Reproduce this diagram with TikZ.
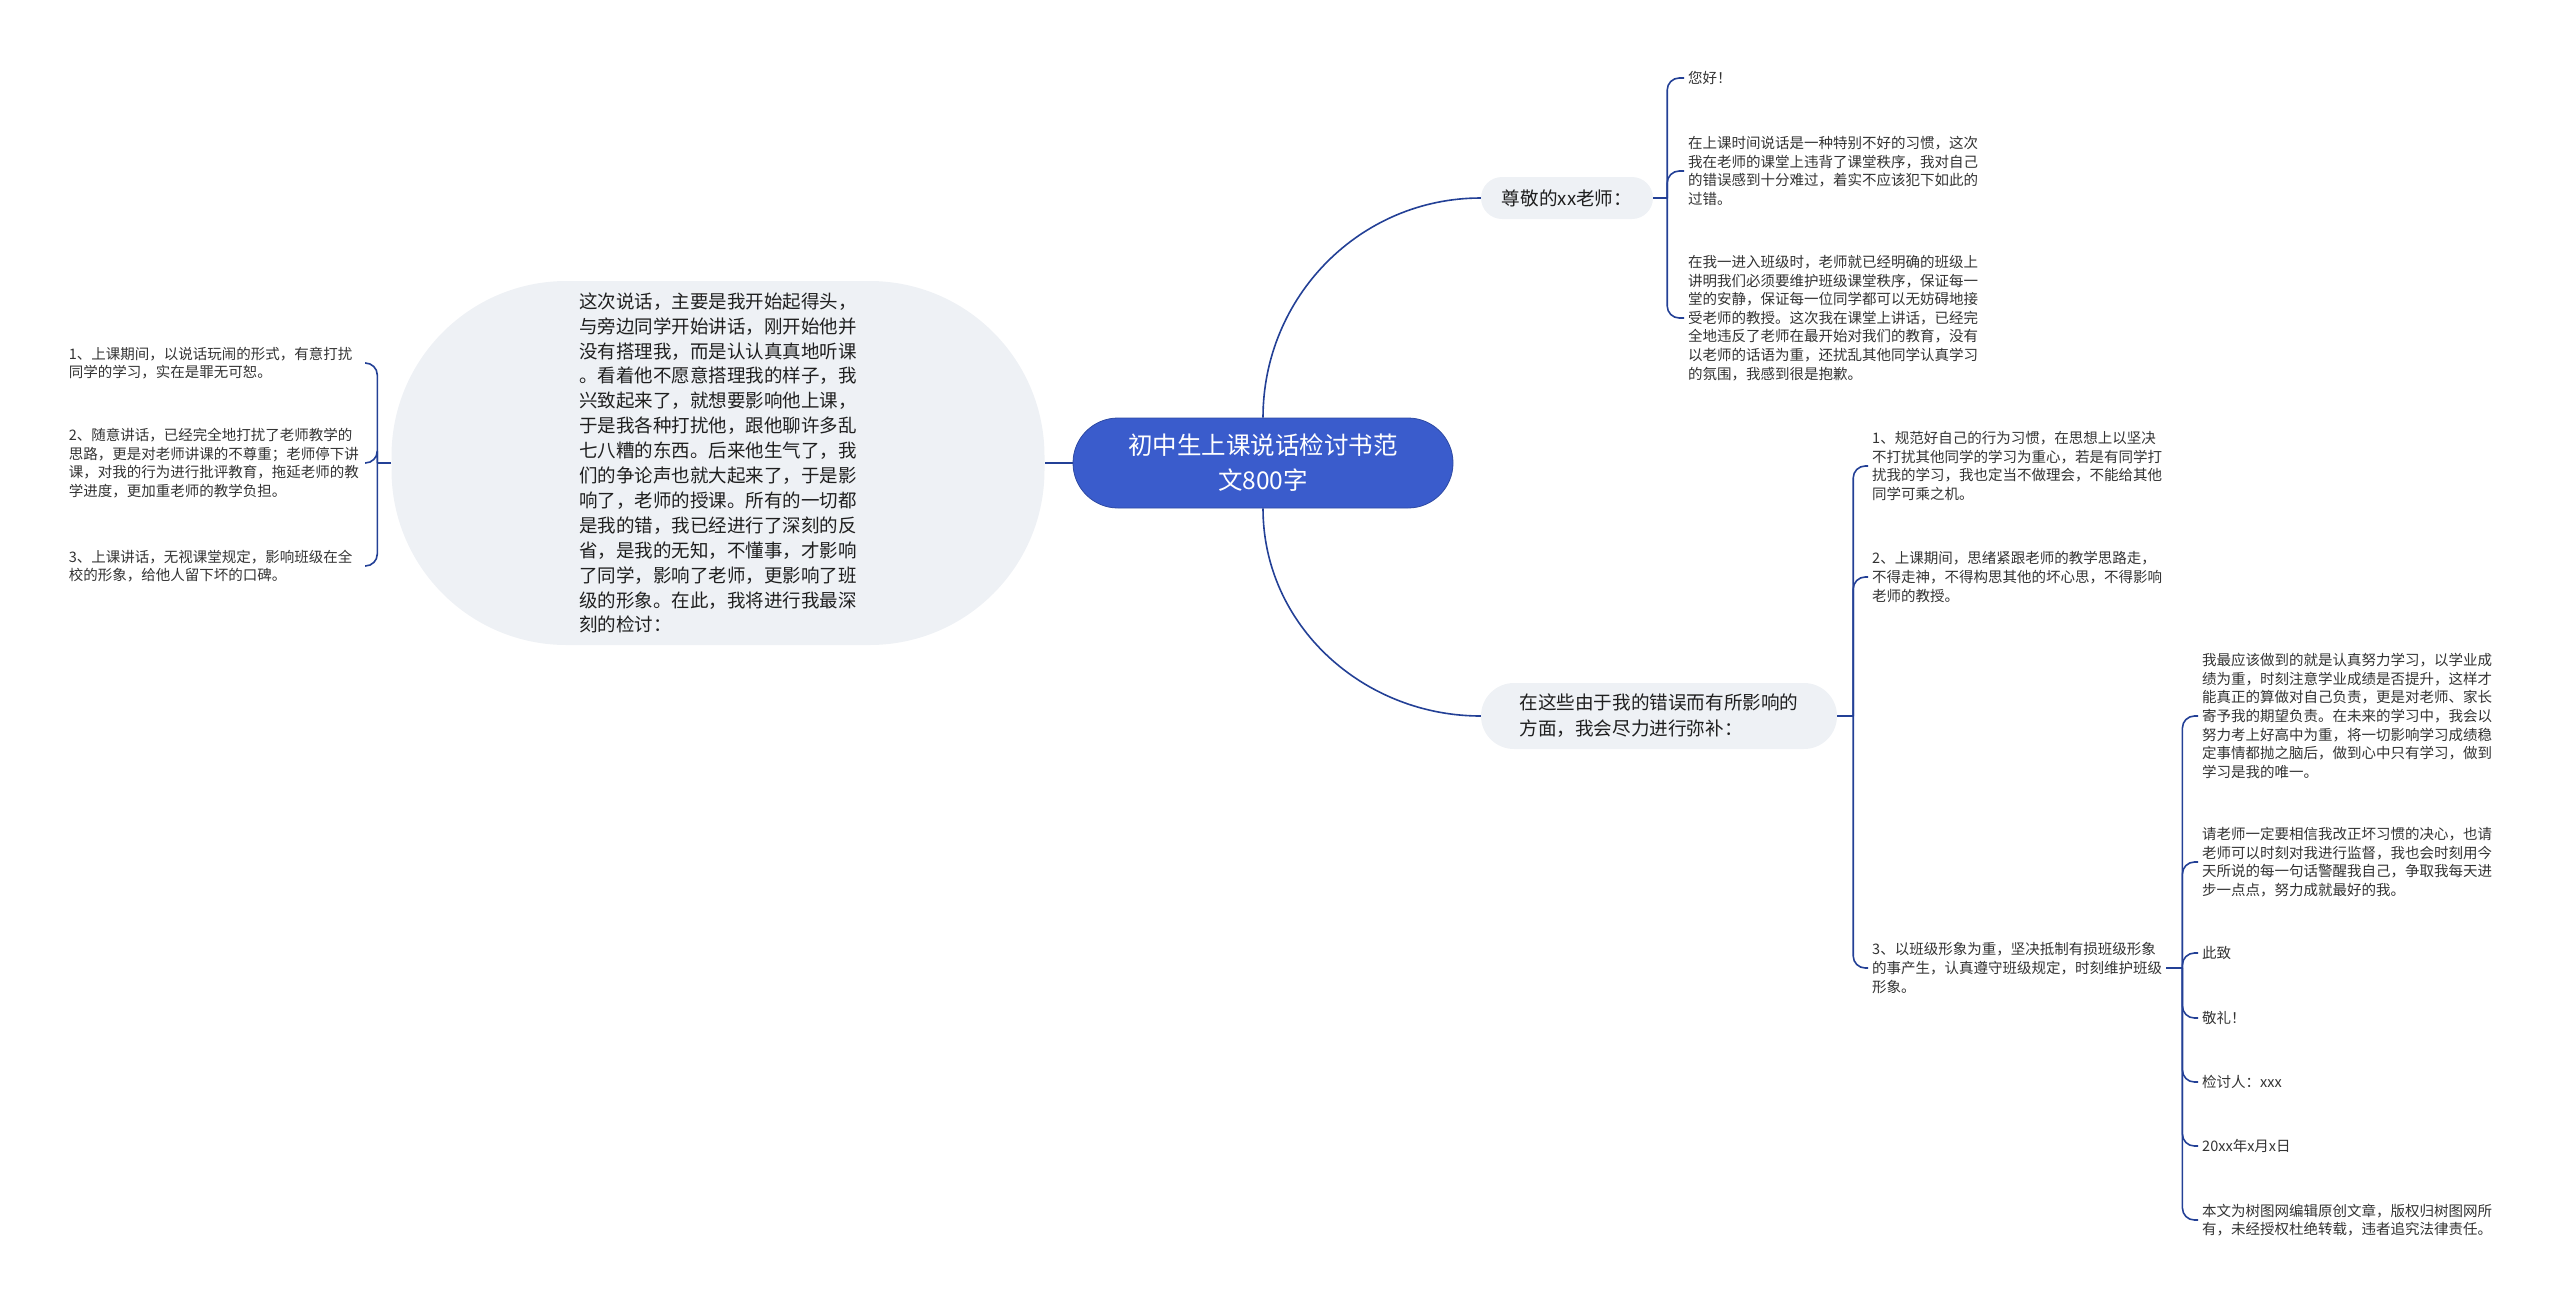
\documentclass[tikz,border=0pt]{standalone}
\usepackage{fontspec}
\setmainfont{Noto Sans CJK SC}
\usetikzlibrary{positioning, backgrounds}

\definecolor{linkblue}{RGB}{35,64,150}
\definecolor{rootblue}{RGB}{58,92,204}
\definecolor{topicgray}{RGB}{238,241,245}
\definecolor{leaftext}{RGB}{51,51,51}

\begin{document}
\begin{tikzpicture}[x=1pt, y=-1pt,
  root/.style={fill=rootblue, draw=rootblue!80!black, line width=0.8pt, rounded corners=45pt,
               minimum width=380pt, minimum height=90pt, align=center, text=white,
               font=\fontsize{24.5}{35}\selectfont},
  bigtopic/.style={fill=topicgray, rounded corners=175pt, minimum width=653pt, minimum height=364pt,
                   align=left, text=black!88, font=\fontsize{18.5}{24.9}\selectfont},
  topic/.style={fill=topicgray, align=left, text=black!88, font=\fontsize{18.6}{26}\selectfont},
  leaf/.style={inner sep=4pt, align=left, text=leaftext, font=\fontsize{14.5}{18.6}\selectfont},
  link/.style={draw=linkblue, line width=1.6pt},
  fork/.style={link, rounded corners=12pt},
]
\useasboundingbox (0,0) rectangle (2560,1307);

% === Nodes ===

% Root
\node[root] (root) at (1263,463) {初中生上课说话检讨书范\\文800字};

% Left topic
\node[bigtopic] (story) at (718,463) {这次说话，主要是我开始起得头，\\与旁边同学开始讲话，刚开始他并\\没有搭理我，而是认认真真地听课\\。看着他不愿意搭理我的样子，我\\兴致起来了，就想要影响他上课，\\于是我各种打扰他，跟他聊许多乱\\七八糟的东西。后来他生气了，我\\们的争论声也就大起来了，于是影\\响了，老师的授课。所有的一切都\\是我的错，我已经进行了深刻的反\\省，是我的无知，不懂事，才影响\\了同学，影响了老师，更影响了班\\级的形象。在此，我将进行我最深\\刻的检讨：};

% Left leaves
\node[leaf, text width=292pt, anchor=east] (wrong1) at (365,363) {1、上课期间，以说话玩闹的形式，有意打扰\\同学的学习，实在是罪无可恕。};
\node[leaf, text width=292pt, anchor=east] (wrong2) at (365,463) {2、随意讲话，已经完全地打扰了老师教学的\\思路，更是对老师讲课的不尊重；老师停下讲\\课，对我的行为进行批评教育，拖延老师的教\\学进度，更加重老师的教学负担。};
\node[leaf, text width=292pt, anchor=east] (wrong3) at (365,566) {3、上课讲话，无视课堂规定，影响班级在全\\校的形象，给他人留下坏的口碑。};

% Right topics
\node[topic, rounded corners=21pt, minimum width=172pt, minimum height=42pt] (dear) at (1567,198) {尊敬的xx老师：};
\node[topic, rounded corners=33pt, minimum width=356pt, minimum height=66pt] (amend) at (1659,716) {在这些由于我的错误而有所影响的\\方面，我会尽力进行弥补：};

% Letter opening
\node[leaf, anchor=west] (hello) at (1684,78) {您好！};
\node[leaf, anchor=west] (habit) at (1684,171) {在上课时间说话是一种特别不好的习惯，这次\\我在老师的课堂上违背了课堂秩序，我对自己\\的错误感到十分难过，着实不应该犯下如此的\\过错。};
\node[leaf, anchor=west] (order) at (1684,318) {在我一进入班级时，老师就已经明确的班级上\\讲明我们必须要维护班级课堂秩序，保证每一\\堂的安静，保证每一位同学都可以无妨碍地接\\受老师的教授。这次我在课堂上讲话，已经完\\全地违反了老师在最开始对我们的教育，没有\\以老师的话语为重，还扰乱其他同学认真学习\\的氛围，我感到很是抱歉。};

% Amends
\node[leaf, anchor=west] (fix1) at (1868,466) {1、规范好自己的行为习惯，在思想上以坚决\\不打扰其他同学的学习为重心，若是有同学打\\扰我的学习，我也定当不做理会，不能给其他\\同学可乘之机。};
\node[leaf, anchor=west] (fix2) at (1868,577) {2、上课期间，思绪紧跟老师的教学思路走，\\不得走神，不得构思其他的坏心思，不得影响\\老师的教授。};
\node[leaf, anchor=west] (fix3) at (1868,968) {3、以班级形象为重，坚决抵制有损班级形象\\的事产生，认真遵守班级规定，时刻维护班级\\形象。};

% Closing
\node[leaf, anchor=west] (study) at (2198,716) {我最应该做到的就是认真努力学习，以学业成\\绩为重，时刻注意学业成绩是否提升，这样才\\能真正的算做对自己负责，更是对老师、家长\\寄予我的期望负责。在未来的学习中，我会以\\努力考上好高中为重，将一切影响学习成绩稳\\定事情都抛之脑后，做到心中只有学习，做到\\学习是我的唯一。};
\node[leaf, anchor=west] (trust) at (2198,862) {请老师一定要相信我改正坏习惯的决心，也请\\老师可以时刻对我进行监督，我也会时刻用今\\天所说的每一句话警醒我自己，争取我每天进\\步一点点，努力成就最好的我。};
\node[leaf, anchor=west] (cizhi) at (2198,953) {此致};
\node[leaf, anchor=west] (jingli) at (2198,1018) {敬礼！};
\node[leaf, anchor=west] (signer) at (2198,1082) {检讨人：xxx};
\node[leaf, anchor=west] (date) at (2198,1146) {20xx年x月x日};
\node[leaf, anchor=west] (note) at (2198,1220) {本文为树图网编辑原创文章，版权归树图网所\\有，未经授权杜绝转载，违者追究法律责任。};

% === Links on background layer ===
\begin{scope}[on background layer]
  % Root to topics
  \draw[link] (root.west) -- (story.east);
  \draw[link] (root.north) to[out=90, in=180] (dear.west);
  \draw[link] (root.south) to[out=-90, in=180] (amend.west);

  % Left fork
  \draw[link] (story.west) -- ++(-14,0) coordinate (jStory);
  \draw[fork] (jStory) |- (wrong1.east);
  \draw[fork] (jStory) |- (wrong2.east);
  \draw[fork] (jStory) |- (wrong3.east);

  % Letter opening fork
  \draw[link] (dear.east) -- ++(14,0) coordinate (jDear);
  \draw[fork] (jDear) |- (hello.west);
  \draw[fork] (jDear) |- (habit.west);
  \draw[fork] (jDear) |- (order.west);

  % Amends fork
  \draw[link] (amend.east) -- ++(16,0) coordinate (jAmend);
  \draw[fork] (jAmend) |- (fix1.west);
  \draw[fork] (jAmend) |- (fix2.west);
  \draw[fork] (jAmend) |- (fix3.west);

  % Closing fork
  \draw[link] (fix3.east) -- ++(16,0) coordinate (jFix);
  \draw[fork] (jFix) |- (study.west);
  \draw[fork] (jFix) |- (trust.west);
  \draw[fork] (jFix) |- (cizhi.west);
  \draw[fork] (jFix) |- (jingli.west);
  \draw[fork] (jFix) |- (signer.west);
  \draw[fork] (jFix) |- (date.west);
  \draw[fork] (jFix) |- (note.west);
\end{scope}

\end{tikzpicture}
\end{document}
